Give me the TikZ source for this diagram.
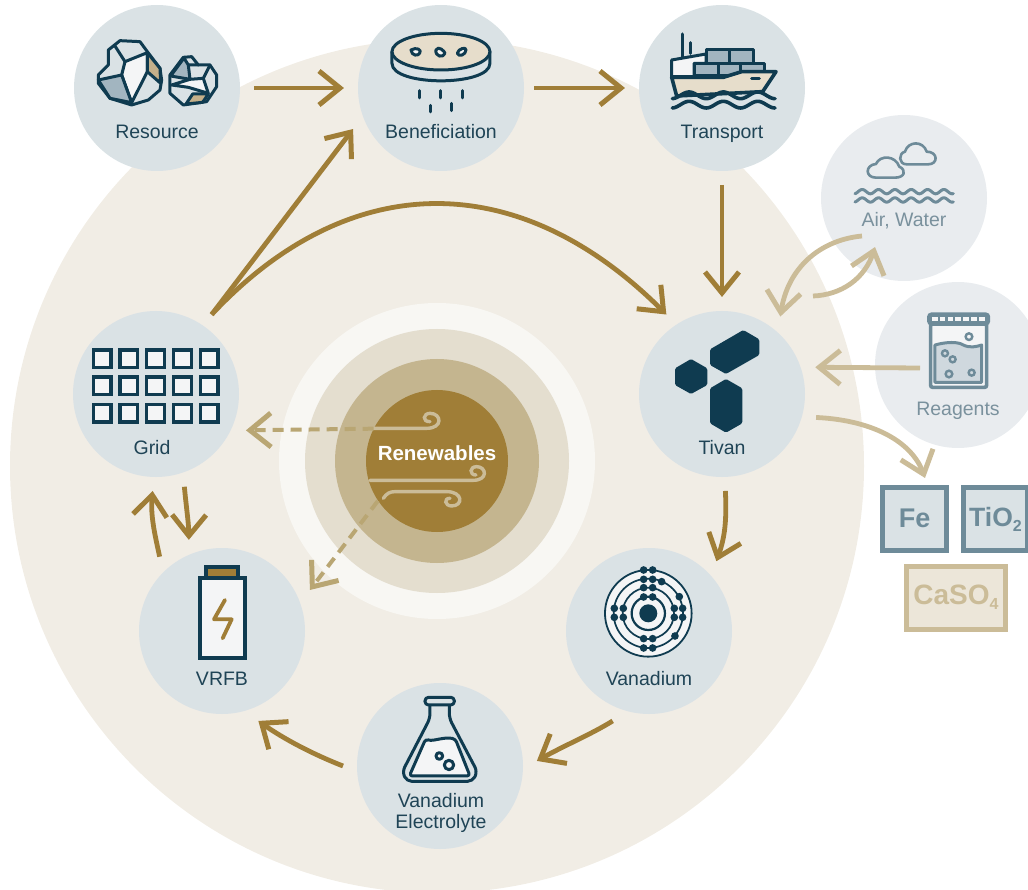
\documentclass[tikz,border=0pt]{standalone}
\usepackage{fontspec}
\setmainfont{Liberation Sans}
\usetikzlibrary{arrows.meta}
\pgfdeclarearrow{
  name = Vee,
  setup code = {
    \pgfarrowssettipend{4pt}
    \pgfarrowssetlineend{0pt}
    \pgfarrowssetvisualbackend{-20pt}
  },
  drawing code = {
    \pgfsetdash{}{0pt}
    \pgfsetlinewidth{5pt}
    \pgfsetmiterjoin
    \pgfsetbuttcap
    \pgfpathmoveto{\pgfqpoint{-21pt}{17pt}}
    \pgfpathlineto{\pgfqpoint{0pt}{0pt}}
    \pgfpathlineto{\pgfqpoint{-21pt}{-17pt}}
    \pgfusepathqstroke
  },
}
\definecolor{bigc}{HTML}{F1EDE5}
\definecolor{nodec}{HTML}{DAE2E5}
\definecolor{lightc}{HTML}{E9ECEF}
\definecolor{dark}{HTML}{0F3B50}
\definecolor{gold}{HTML}{A07E37}
\definecolor{tan}{HTML}{CBBC98}
\definecolor{dashc}{HTML}{B9A673}
\definecolor{slate}{HTML}{6E8B99}
\definecolor{labc}{HTML}{1F4456}
\definecolor{labl}{HTML}{7A919D}
\definecolor{paper}{HTML}{F4F5F6}
\definecolor{rockb}{HTML}{A2B5C0}
\definecolor{rockt}{HTML}{C4B08A}
\definecolor{sand}{HTML}{E6DDCB}
\definecolor{ringa}{HTML}{F8F7F3}
\definecolor{ringb}{HTML}{E4DECF}
\definecolor{ringc}{HTML}{C4B58F}
\tikzset{
  x=1pt,y=-1pt,
  stage/.style={circle,fill=nodec,minimum size=166pt,inner sep=0pt,outer sep=14pt},
  extra/.style={circle,fill=lightc,minimum size=166pt,inner sep=0pt,outer sep=14pt},
  lbl/.style={anchor=base,inner sep=0pt,text=labc,font=\fontsize{19.5}{23}\selectfont},
  lbll/.style={lbl,text=labl},
  flow/.style={draw=gold,line width=4.8pt,-Vee},
  side/.style={flow,draw=tan},
  dflow/.style={flow,draw=dashc,line width=4pt,dash pattern=on 11pt off 7pt},
  icon/.style={draw=dark,line width=3pt,line join=round,line cap=round},
  iconl/.style={draw=slate,line width=2.6pt,line join=round,line cap=round},
  wind/.style={draw=tan,line width=3.4pt,line cap=round},
  elem/.style={draw=slate,line width=5pt,fill=nodec,minimum width=64pt,minimum height=63pt,inner sep=0pt,text=slate,font=\fontsize{27}{30}\bfseries\selectfont},
}
\begin{document}
\begin{tikzpicture}
\useasboundingbox (0,0) rectangle (1028,890);
\fill[bigc] (437,466) circle[radius=427];
\fill[ringa] (437,461) circle[radius=158];
\fill[ringb] (437,461) circle[radius=132];
\fill[ringc] (437,461) circle[radius=102];
\node[circle,fill=gold,minimum size=142pt,inner sep=0pt] (core) at (437,461) {};

\node[stage] (res) at (157,88) {};
\node[stage] (ben) at (441,88) {};
\node[stage] (tra) at (722,88) {};
\node[extra] (air) at (904,198) {};
\node[extra] (rea) at (958,365) {};
\node[stage] (tiv) at (722,394) {};
\node[stage] (gri) at (156,394) {};
\node[stage] (vrf) at (222,631) {};
\node[stage] (van) at (649,631) {};
\node[stage] (ele) at (440,766) {};

\node[lbl]  (resl) at (157,139) {Resource};
\node[lbl]  (benl) at (441,139) {Beneficiation};
\node[lbl]  (tral) at (722,139) {Transport};
\node[lbll] (airl) at (904,227) {Air, Water};
\node[lbll] (real) at (958,416) {Reagents};
\node[lbl]  (tivl) at (722,454) {Tivan};
\node[lbl]  (gril) at (152,454) {Grid};
\node[lbl]  (vrfl) at (222,685) {VRFB};
\node[lbl]  (vanl) at (649,685) {Vanadium};
\node[lbl]  (elel) at (441,807) {Vanadium};
\node[lbl]  (ele2) at (441,828) {Electrolyte};
\node[anchor=base,inner sep=0pt,text=white,font=\fontsize{20.5}{24}\bfseries\selectfont] (renl) at (437,460) {Renewables};

\node[elem] (fe) at (914.5,519) {\raisebox{1pt}{Fe}};
\node[elem,font=\fontsize{26.5}{30}\bfseries\selectfont] (tio) at (995.5,519) {\raisebox{1pt}{TiO\raisebox{-.35ex}{\fontsize{16}{16}\selectfont 2}}};
\node[elem,draw=tan,fill=sand!45!bigc,text=tan,minimum width=99pt,font=\fontsize{28}{30}\bfseries\selectfont] (cas) at (956,597.5) {CaSO\raisebox{-.35ex}{\fontsize{16}{16}\selectfont 4}};

% ---- Resource icon
\begin{scope}[shift={(60,0)},x=.3333pt,y=-.3333pt]
\filldraw[icon,fill=nodec] (180,122)--(240,125)--(262,155)--(300,205)--(305,240)--(300,270)--(265,300)--(215,315)--(150,295)--(115,250)--(115,225)--(145,195)--(145,150)--cycle;
\filldraw[icon,fill=paper] (262,158)--(195,185)--(185,225)--(215,308)--(262,215)--cycle;
\filldraw[icon,fill=rockt] (262,158)--(300,205)--(302,250)--(262,215)--cycle;
\filldraw[icon,fill=rockb] (185,225)--(115,240)--(150,295)--(215,308)--cycle;
\draw[icon] (165,138)--(195,185);
\filldraw[icon,fill=nodec] (370,172)--(395,170)--(415,195)--(450,195)--(470,225)--(470,260)--(440,305)--(370,315)--(330,280)--(330,225)--cycle;
\filldraw[icon,fill=rockb] (372,174)--(332,228)--(390,238)--(385,195)--cycle;
\filldraw[icon,fill=paper] (335,255)--(390,238)--(430,235)--(445,280)--(385,262)--cycle;
\filldraw[icon,fill=rockt] (378,312)--(398,282)--(445,282)--(428,307)--cycle;
\draw[icon] (385,195)--(415,195) (430,235)--(450,195);
% ---- Beneficiation icon
\filldraw[icon,fill=nodec] (996,155)--(996,190) .. controls (996,260) and (1290,260) .. (1290,190) -- (1290,155);
\filldraw[icon,fill=sand] (1143,155) ellipse[x radius=147,y radius=55];
\filldraw[icon,fill=paper] (1053,150) .. controls (1070,140) and (1085,150) .. (1080,158) .. controls (1075,170) and (1055,168) .. (1053,150) -- cycle;
\filldraw[icon,fill=paper] (1128,150) .. controls (1135,135) and (1155,155) .. (1155,160) .. controls (1150,175) and (1125,170) .. (1128,150) -- cycle;
\filldraw[icon,fill=paper] (1192,160) .. controls (1195,145) and (1220,140) .. (1218,150) .. controls (1218,165) and (1195,172) .. (1192,160) -- cycle;
\foreach \a/\b/\c in {1078/272/294,1141/272/294,1207/272/294,1112/316/336,1175/310/332}
  \draw[icon] (\a,\b)--(\a,\c);
\end{scope}
% ---- Ship
\begin{scope}[shift={(630,20)},x=.3333pt,y=-.3333pt]
\draw[icon] (158,42)--(158,110) (182,68)--(182,100);
\filldraw[icon,fill=paper] (125,120)--(228,102)--(228,130)--(192,130)--(192,170)--(125,170)--cycle;
\filldraw[icon,fill=rockb] (228,90) rectangle (298,130);
\filldraw[icon,fill=rockb] (298,90) rectangle (370,130);
\filldraw[icon,fill=rockb] (192,130) rectangle (265,168);
\filldraw[icon,fill=rockb] (265,130) rectangle (333,168);
\filldraw[icon,fill=rockb] (333,130) rectangle (405,160);
\filldraw[icon,line width=3.6pt,fill=sand] (125,172)--(280,172)--(335,155)--(438,155)--(398,215)--(140,228)--cycle;
\draw[icon] (365,177)--(388,177);
\draw[icon,line width=3.6pt] plot[domain=127:435,samples=70] (\x,{226+10*sin(360/103*(\x-100))});
\draw[icon,line width=3.6pt] plot[domain=127:435,samples=70] (\x,{254+10*sin(360/103*(\x-100))});
% ---- Air icon
\filldraw[iconl,fill=lightc] (830,433) .. controls (805,433) and (805,400) .. (825,395) .. controls (835,362) and (880,362) .. (890,395) .. controls (925,395) and (925,433) .. (895,433) -- cycle;
\filldraw[iconl,fill=lightc] (738,473) .. controls (705,473) and (705,435) .. (738,432) .. controls (750,405) and (795,405) .. (808,440) .. controls (830,450) and (825,473) .. (795,473) -- cycle;
\draw[iconl,line width=3pt] plot[domain=675:970,samples=90] (\x,{515+6.5*sin(360/49*(\x-660))});
\draw[iconl,line width=3pt] plot[domain=675:970,samples=90] (\x,{540+6.5*sin(360/49*(\x-660))});
\end{scope}
% ---- Reagents, Tivan
\begin{scope}[shift={(630,300)},x=.3333pt,y=-.3333pt]
\filldraw[draw=slate,line width=3.6pt,fill=paper,rounded corners=2pt] (902,72) rectangle (1070,262);
\filldraw[draw=slate,line width=3pt,fill=rockb!45!paper,line join=round] (915,135) .. controls (950,125) and (985,125) .. (1000,135) .. controls (1020,145) and (1040,140) .. (1055,135) -- (1055,247) -- (915,247) -- cycle;
\filldraw[draw=slate,line width=3.2pt,fill=slate,rounded corners=3pt] (896,42) rectangle (1076,72);
\foreach \i in {0,...,6} \fill[paper] (906+\i*23.5,50) rectangle +(17,14);
\foreach \a/\b/\r in {1017/110/10,945/160/9,968/178/9,957/222/10,1025/218/9}
  \filldraw[draw=slate,line width=2.4pt,fill=none] (\a,\b) circle[radius=\r];
\fill[dark,rounded corners=1.5pt] (183,177)--(232,205)--(232,255)--(183,282)--(135,255)--(135,205)--cycle;
\fill[dark,rounded corners=1.5pt] (340,90)--(388,118)--(388,165)--(288,222)--(240,195)--(240,148)--cycle;
\fill[dark,rounded corners=1.5pt] (288,237)--(337,265)--(337,370)--(288,398)--(240,370)--(240,265)--cycle;
\end{scope}
% ---- Atom, flask
\begin{scope}[shift={(350,540)},x=.3333pt,y=-.3333pt]
\filldraw[icon,line width=1.8pt,fill=paper] (895,220) circle[radius=130];
\foreach \r in {104,77} \draw[icon,line width=1.7pt] (895,220) circle[radius=\r];
\draw[icon,line width=2.2pt] (895,220) circle[radius=50];
\fill[dark] (895,220) circle[radius=27];
\foreach \a/\b in {881/90,908/90,881/118,908/118,935/125,881/143,908/143,881/171,908/171,793/205,793/232,820/205,820/232,973/205,973/232,998/205,998/232,988/170,975/288,881/296,908/296,881/324,908/324}
  \fill[dark] (\a,\b) circle[radius=11.5];
\filldraw[icon,fill=nodec,rounded corners=5pt] (240,490)--(240,535)--(157,695)--(170,724)--(368,724)--(382,695)--(298,535)--(298,490);
\filldraw[icon,fill=nodec,rounded corners=3.5pt] (225,472) rectangle (313,495);
\filldraw[icon,fill=paper,rounded corners=3pt] (227,597) .. controls (250,605) and (280,590) .. (316,597) -- (360,708) -- (178,708) -- cycle;
\draw[icon] (268,648) circle[radius=10];
\draw[icon] (297,675) circle[radius=14];
\end{scope}
% ---- Grid, battery
\begin{scope}[shift={(60,330)},x=.3333pt,y=-.3333pt]
\foreach \xa in {95,175,255,336,416} \foreach \ya in {55,136,218}
  \filldraw[draw=dark,line width=3.4pt,fill=paper] (\xa+5,\ya+5) rectangle +(53,53);
\filldraw[draw=dark,line width=4pt,fill=gold] (438,711) rectangle (534,745);
\filldraw[draw=dark,line width=4pt,fill=paper] (419,745) rectangle (554,985);
\draw[draw=gold,line width=3.8pt,line cap=round,line join=round] (495,810)--(462,868)--(515,868)--(488,925);
\end{scope}
% ---- Wind
\begin{scope}[shift={(270,300)},x=.3333pt,y=-.3333pt]
\draw[wind] (310,385)--(470,385) .. controls (520,385) and (515,340) .. (480,340) .. controls (460,340) and (455,365) .. (480,365);
\draw[wind] (300,541)--(610,541) .. controls (655,541) and (650,500) .. (620,500) .. controls (598,500) and (598,525) .. (618,525);
\draw[wind] (340,595) .. controls (350,580) and (360,575) .. (375,575)--(530,575) .. controls (580,575) and (580,618) .. (545,618) .. controls (525,618) and (520,595) .. (540,595);
\end{scope}

% ---- Connectors
\draw[flow] (res.east) -- (ben.west);
\draw[flow] ([xshift=-4pt]ben.east) -- (tra.west);
\draw[flow] (tra.south) -- (tiv.north);
\draw[flow] (gri.55.6) -- (ben.205.5);
\draw[flow] (gri.55.6) .. controls (350,167) and (520,167) .. (tiv.125);
\draw[flow] (tiv.-88) .. controls (727,525) and (724,540) .. (van.46);
\draw[flow] (van.-112) .. controls (590,735) and (565,745) .. (ele.3.5);
\draw[flow] (ele.west) .. controls (315,755) and (285,740) .. (vrf.-68.6);
\draw[flow] (vrf.130) .. controls (155,535) and (150,515) .. (gri.-92);
\draw[flow] (gri.-73) .. controls (186,505) and (189,525) .. (vrf.110);
\draw[dflow] (core.153) -- (gri.-22);
\draw[dflow] (core.214.4) -- (vrf.25.7);
\coordinate (airout) at (862,236);
\coordinate (airin) at (875,247);
\coordinate (tivout) at (813,296);
\coordinate (reaout) at (920,368);
\draw[side] (airout) .. controls (820,240) and (787,268) .. (tiv.53);
\draw[side] (tivout) .. controls (840,295) and (865,280) .. (airin);
\draw[side] (reaout) -- (tiv.16);
\draw[side] (tiv.-14.8) .. controls (870,420) and (912,440) .. ([xshift=10.5pt,yshift=7pt]fe.north);
\end{tikzpicture}
\end{document}
